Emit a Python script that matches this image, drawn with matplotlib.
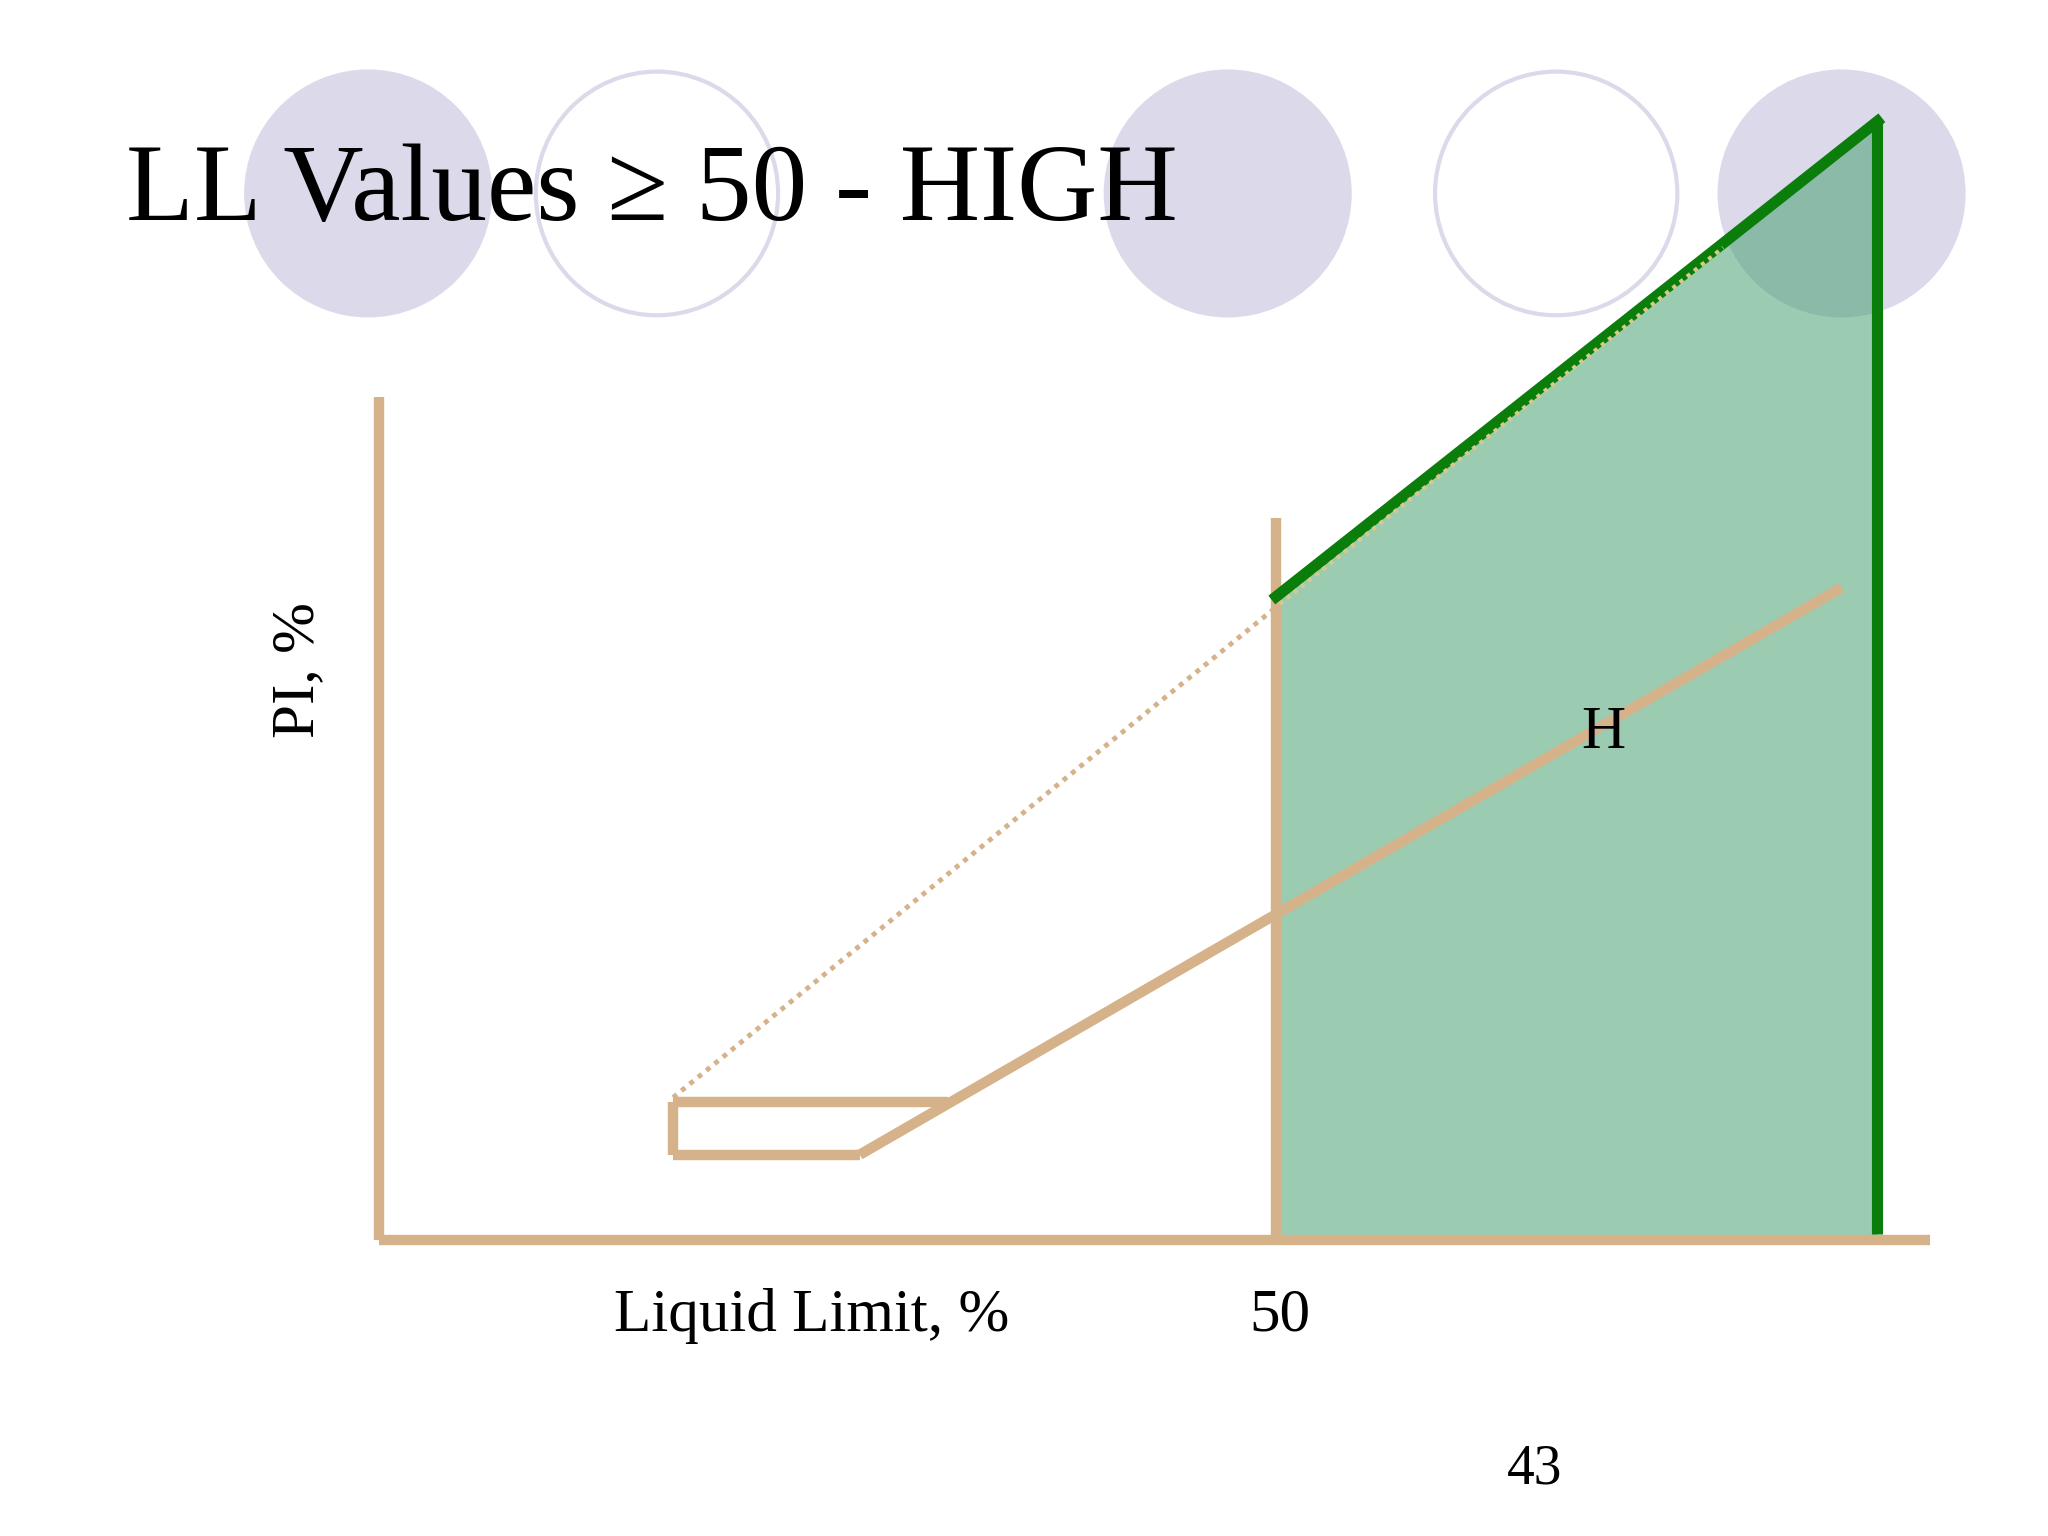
import matplotlib
matplotlib.use("Agg")
import matplotlib.pyplot as plt
from matplotlib.patches import Ellipse, Polygon

# chart data (LL %, PI %)
yaxis_ll = [0, 0]; yaxis_pi = [0, 56.1]
xaxis_ll = [0, 86.4]; xaxis_pi = [0, 0]
ll50_ll = [50, 50]; ll50_pi = [0, 48.0]
aline_ll = [26.8, 81.5]; aline_pi = [5.7, 43.4]
box_left_ll = [16.4, 16.4]; box_left_pi = [5.7, 9.2]
box_top_ll = [16.4, 31.7]; box_top_pi = [9.2, 9.2]
box_bot_ll = [16.4, 26.8]; box_bot_pi = [5.7, 5.7]
uline_ll = [16.4, 50]; uline_pi = [9.5, 42.1]
fill_ll = [50, 50, 83.5, 83.5]; fill_pi = [0, 42.8, 74.4, 0]
gtop_ll = [50, 83.5]; gtop_pi = [42.8, 74.4]
gvert_ll = [83.5, 83.5]; gvert_pi = [74.4, 0.4]
ydot_ll = [50.2, 74.9]; ydot_pi = [42.3, 66.0]
circle_ll = [-0.59, 15.5, 47.3, 65.6, 81.5]
circle_filled = [True, False, True, False, True]
circle_pi = 69.6

fig = plt.figure(figsize=(20.48, 15.36), dpi=100)
ax = fig.add_axes([0, 0, 1, 1])
ax.set_xlim(-21.1, 93.0); ax.set_ylim(-19.65, 82.46); ax.axis('off')

lav = '#dcdaea'
for cx, f in zip(circle_ll, circle_filled):
    if f:
        ax.add_patch(Ellipse((cx, circle_pi), 13.82, 16.49, facecolor=lav, edgecolor='none', zorder=1))
    else:
        ax.add_patch(Ellipse((cx, circle_pi), 13.5, 16.2, facecolor='none', edgecolor=lav, lw=3, zorder=1))

ax.text(-14.1, 69.6, 'LL Values ≥ 50 - HIGH', fontsize=80, family='Liberation Serif', va='center', ha='left', zorder=5)

ax.add_patch(Polygon(list(zip(fill_ll, fill_pi)), closed=True, facecolor=(73/255, 162/255, 115/255), alpha=0.55, edgecolor='none', zorder=2))

orange = '#d6b28a'
for xs, ys in [(yaxis_ll, yaxis_pi), (xaxis_ll, xaxis_pi), (ll50_ll, ll50_pi), (aline_ll, aline_pi),
               (box_left_ll, box_left_pi), (box_top_ll, box_top_pi), (box_bot_ll, box_bot_pi)]:
    ax.plot(xs, ys, color=orange, lw=7.5, solid_capstyle='butt', zorder=3)
ax.plot(uline_ll, uline_pi, color=orange, lw=3.5, ls=(0, (1, 1.2)), zorder=3)
ax.plot(gtop_ll, gtop_pi, color='#0a7d0a', lw=8, zorder=4)
ax.plot(gvert_ll, gvert_pi, color='#0a7d0a', lw=8, solid_capstyle='butt', zorder=4)
ax.plot(ydot_ll, ydot_pi, color='#d8c98a', lw=3, ls=(0, (1, 1.2)), zorder=4)

ser = 'Liberation Serif'
ax.text(68.2, 33.7, 'H', fontsize=44, family=ser, ha='center', va='center', zorder=5)
ax.text(-4.5, 37.9, 'PI, %', fontsize=44, family=ser, rotation=90, ha='center', va='center')
ax.text(24.1, -5.0, 'Liquid Limit, %', fontsize=44, family=ser, ha='center', va='center')
ax.text(50.2, -5.0, '50', fontsize=44, family=ser, ha='center', va='center')
ax.text(64.4, -15.2, '43', fontsize=40, family=ser, ha='center', va='center')

fig.savefig('out.png', dpi=100)
